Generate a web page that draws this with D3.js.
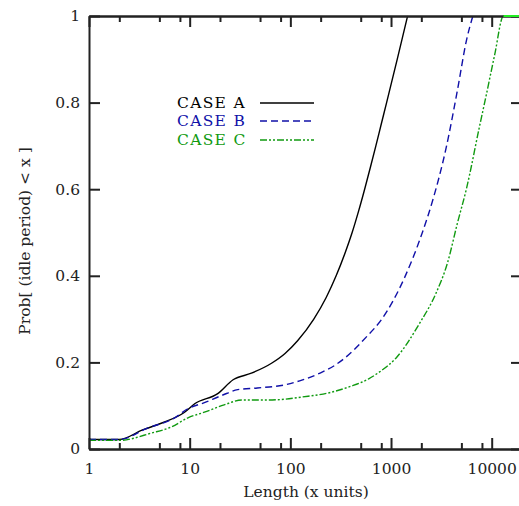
<!DOCTYPE html>
<html>
<head>
<meta charset="utf-8">
<script src="https://cdn.jsdelivr.net/npm/d3@7"></script>
<style>
  body { margin: 0; background: #fff; }
  svg { display: block; }
</style>
</head>
<body>
<div id="chart"></div>
<script>
// Données : [longueur, probabilité]
const xTicks = [1, 10, 100, 1000, 10000];
const xMinorMult = [2, 5, 8];
const yTicks = [0, 0.2, 0.4, 0.6, 0.8, 1];
const caseNames = ["CASE A", "CASE B", "CASE C"];

const caseA = [[1, 0.022], [2, 0.022], [3.4, 0.044], [5.3, 0.06], [8.9, 0.085], [11.3, 0.105],
    [19, 0.128], [27, 0.16], [41, 0.175], [65, 0.198], [88, 0.22], [118, 0.25], [171, 0.3],
    [227, 0.35], [285, 0.4], [346, 0.45], [411, 0.5], [477, 0.55], [547, 0.6], [623, 0.65],
    [707, 0.7], [799, 0.75], [904, 0.8], [1021, 0.85], [1152, 0.9], [1298, 0.95], [1461, 1.0]];

const caseB = [[1, 0.022], [2, 0.022], [3.8, 0.048], [7.1, 0.072], [9.6, 0.093], [14, 0.107],
    [21, 0.124], [30, 0.137], [47, 0.141], [88, 0.148], [130, 0.159], [200, 0.176], [280, 0.194],
    [347, 0.21], [570, 0.259], [810, 0.3], [1370, 0.397], [2040, 0.499], [2600, 0.575],
    [3540, 0.697], [4570, 0.829], [5630, 0.945], [6500, 1.0]];

const caseC = [[1, 0.02], [2, 0.02], [4.2, 0.037], [6.6, 0.051], [9.6, 0.072], [14, 0.085],
    [22, 0.102], [33, 0.113], [56, 0.113], [88, 0.115], [130, 0.12], [244, 0.13], [400, 0.145],
    [600, 0.162], [770, 0.178], [1140, 0.212], [1920, 0.29], [2800, 0.36], [3640, 0.43],
    [4570, 0.522], [5600, 0.6], [7570, 0.745], [8880, 0.82], [10700, 0.91], [13100, 1.0],
    [20000, 1.0]];

const width = 519,
    height = 506;
const plot = { left: 89, right: 522, top: 16, bottom: 449 };

const colors = ["#000000", "#1010a8", "#109a10"];
const dashes = [null, "7,4", "7,2,2,2,2,2"];
const series = [caseA, caseB, caseC];

const svg = d3.select("#chart")
    .append("svg")
    .attr("width", width)
    .attr("height", height)
    .style("font-family", "'DejaVu Serif', serif");

const x = d3.scaleLog().domain([1, 20000]).range([plot.left, plot.right]);
const y = d3.scaleLinear().domain([0, 1]).range([plot.bottom, plot.top]);

// ticks mineurs : 2, 5, 8 par décade
const xMinor = [];
xTicks.forEach(d => xMinorMult.forEach(m => xMinor.push(d * m)));

svg.append("clipPath").attr("id", "clip")
    .append("rect")
    .attr("x", plot.left).attr("y", plot.top - 2)
    .attr("width", plot.right - plot.left).attr("height", plot.bottom - plot.top + 4);

// courbes
const line = d3.line()
    .x(d => x(d[0]))
    .y(d => y(d[1]))
    .curve(d3.curveMonotoneX);

const curves = svg.append("g").attr("clip-path", "url(#clip)");

series.forEach(function(s, i) {
    curves.append("path")
        .datum(s)
        .attr("d", line)
        .attr("fill", "none")
        .attr("stroke", colors[i])
        .attr("stroke-width", 1.4)
        .attr("stroke-dasharray", dashes[i]);
});

// axes
function styleAxis(g) {
    g.selectAll("path.domain").attr("stroke", "#222").attr("stroke-width", 2);
    g.selectAll(".tick line").attr("stroke", "#222").attr("stroke-width", 2);
    g.selectAll(".tick text")
        .style("font-family", "'DejaVu Serif', serif")
        .style("font-size", "15.5px")
        .attr("fill", "#222");
}

svg.append("g")
    .attr("transform", `translate(0,${plot.bottom})`)
    .call(d3.axisBottom(x).tickValues(xTicks).tickSizeInner(-11).tickSizeOuter(0)
        .tickPadding(14).tickFormat(d3.format("d")))
    .call(styleAxis);

svg.append("g")
    .attr("transform", `translate(0,${plot.bottom})`)
    .call(d3.axisBottom(x).tickValues(xMinor).tickSizeInner(-6).tickSizeOuter(0).tickFormat(""))
    .call(styleAxis);

svg.append("g")
    .attr("transform", `translate(0,${plot.top})`)
    .call(d3.axisTop(x).tickValues(xTicks).tickSizeInner(-11).tickSizeOuter(0).tickFormat(""))
    .call(styleAxis);

svg.append("g")
    .attr("transform", `translate(0,${plot.top})`)
    .call(d3.axisTop(x).tickValues(xMinor).tickSizeInner(-6).tickSizeOuter(0).tickFormat(""))
    .call(styleAxis);

svg.append("g")
    .attr("transform", `translate(${plot.left},0)`)
    .call(d3.axisLeft(y).tickValues(yTicks).tickSizeInner(-11).tickSizeOuter(0)
        .tickPadding(9).tickFormat(d => d === 0 || d === 1 ? d : d3.format(".1f")(d)))
    .call(styleAxis);

svg.append("g")
    .attr("transform", `translate(${plot.right},0)`)
    .call(d3.axisRight(y).tickValues(yTicks).tickSizeInner(-11).tickSizeOuter(0).tickFormat(""))
    .call(styleAxis);

// fin de la courbe C le long du bord (vert clair)
svg.append("path")
    .datum(caseC.filter(d => d[1] >= 1))
    .attr("d", line)
    .attr("fill", "none")
    .attr("stroke", "#22ee22")
    .attr("stroke-width", 2);

// titres des axes
svg.append("text")
    .attr("x", 306)
    .attr("y", 497)
    .attr("text-anchor", "middle")
    .style("font-size", "15.5px")
    .attr("fill", "#222")
    .text("Length (x units)");

svg.append("text")
    .attr("transform", "translate(30,241) rotate(-90)")
    .attr("text-anchor", "middle")
    .style("font-size", "15.5px")
    .attr("fill", "#222")
    .text("Prob[ (idle period) < x ]");

// légende
const legend = svg.append("g");
const legendY = [103, 121, 140];

caseNames.forEach(function(name, i) {
    legend.append("text")
        .attr("x", 177)
        .attr("y", legendY[i] + 5)
        .style("font-size", "15.5px")
        .style("letter-spacing", "1.3px")
        .attr("fill", colors[i])
        .text(name);
    legend.append("line")
        .attr("x1", 260).attr("x2", 314)
        .attr("y1", legendY[i]).attr("y2", legendY[i])
        .attr("stroke", colors[i])
        .attr("stroke-width", 1.4)
        .attr("stroke-dasharray", dashes[i]);
});
</script>
</body>
</html>
